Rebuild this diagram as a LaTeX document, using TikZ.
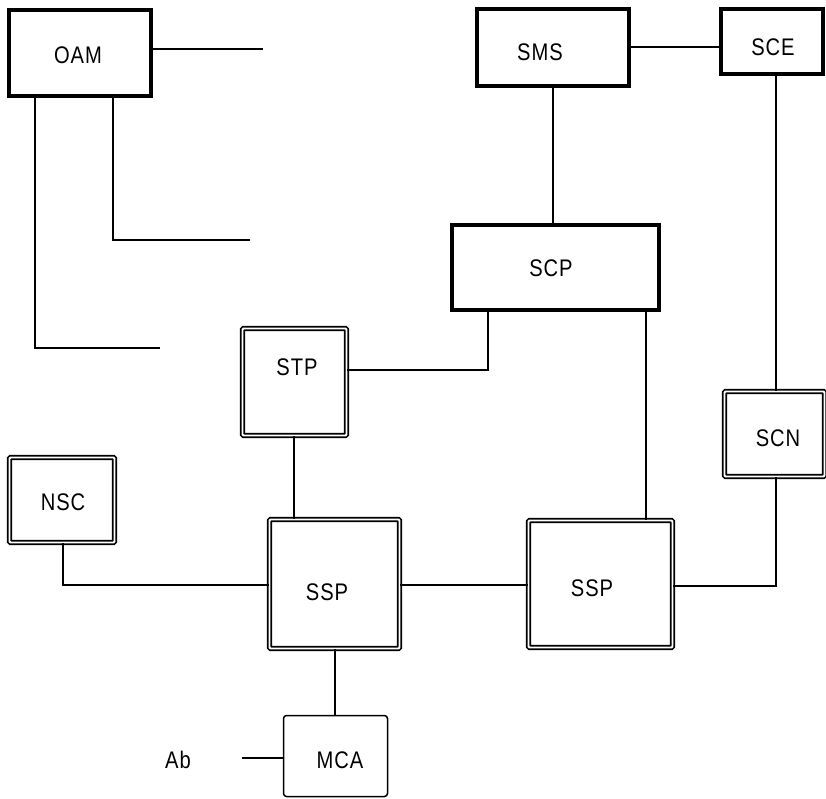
\documentclass[tikz,border=0pt]{standalone}
\usepackage{fontspec}
\setmainfont{Liberation Sans}[FakeStretch=0.84, LetterSpace=4]
\begin{document}
\begin{tikzpicture}[x=1pt,y=-1pt,
  dblbox/.style={draw, line width=1.7pt, double=white, double distance=1.8pt, inner sep=0pt, rounded corners=1pt},
  thinbox/.style={draw, line width=1.5pt, inner sep=0pt, rounded corners=3pt},
  lbl/.style={font=\fontsize{24}{26}\selectfont, inner sep=0pt},
  conn/.style={line width=1.5pt}]
\useasboundingbox (0,0) rectangle (826,799);
% thick boxes (outer extent minus line width)
\node[draw, line width=4.5pt, inner sep=0pt, minimum width=142pt, minimum height=86pt] (oam) at (80,53) {};
\node[draw, line width=4.5pt, inner sep=0pt, minimum width=152pt, minimum height=77pt] (sms) at (553,47.5) {};
\node[draw, line width=4.5pt, inner sep=0pt, minimum width=102pt, minimum height=65pt] (sce) at (772,41.5) {};
\node[draw, line width=4.5pt, inner sep=0pt, minimum width=207pt, minimum height=85pt] (scp) at (555.5,267.5) {};
% double boxes
\node[dblbox, minimum width=104pt, minimum height=107pt] (stp) at (294.5,382) {};
\node[dblbox, minimum width=105pt, minimum height=85pt] (nsc) at (62,500) {};
\node[dblbox, minimum width=130pt, minimum height=129pt] (ssp1) at (334.5,584) {};
\node[dblbox, minimum width=144pt, minimum height=127pt] (ssp2) at (600.5,584) {};
\node[dblbox, minimum width=100pt, minimum height=85pt] (scn) at (774.5,434) {};
% thin box
\node[thinbox, minimum width=104pt, minimum height=81pt] (mca) at (335.5,756) {};
% labels
\node[lbl] (oamt) at (78,55) {OAM};
\node[lbl] (smst) at (540,52) {SMS};
\node[lbl] (scet) at (773,47) {SCE};
\node[lbl] (scpt) at (551,268) {SCP};
\node[lbl] (stpt) at (297,367) {STP};
\node[lbl] (nsct) at (63,502) {NSC};
\node[lbl] (ssp1t) at (327,592) {SSP};
\node[lbl] (ssp2t) at (592,588) {SSP};
\node[lbl] (scnt) at (778,438) {SCN};
\node[lbl] (mcat) at (340,760) {MCA};
\node[lbl] (ab) at (178,760) {Ab};
% free ends
\coordinate (e1) at (263,49);
\coordinate (e2) at (250,240);
\coordinate (e3) at (160,348);
\coordinate (abl) at (242,758);
% connectors
\draw[conn] (oam.east |- e1) -- (e1);
\draw[conn] (oam.south -| 113,0) |- (e2);
\draw[conn] (oam.south -| 35,0) |- (e3);
\draw[conn] (sms.east |- 0,47) -- (sce.west |- 0,47);
\draw[conn] (sms.south) -- (scp.north -| sms.south);
\draw[conn] (scp.south -| 488,0) |- (stp.east |- 0,370);
\draw[conn] (scp.south -| 646,0) -- (ssp2.north -| 646,0);
\draw[conn] (sce.south -| 776,0) -- (scn.north -| 776,0);
\draw[conn] (stp.south -| 294,0) -- (ssp1.north -| 294,0);
\draw[conn] (nsc.south -| 63,0) |- (ssp1.west |- 0,585);
\draw[conn] (ssp1.east |- 0,585) -- (ssp2.west |- 0,585);
\draw[conn] (ssp2.east |- 0,586) -| (scn.south -| 776,0);
\draw[conn] (ssp1.south -| 335,0) -- (mca.north -| 335,0);
\draw[conn] (abl) -- (mca.west |- abl);
\end{tikzpicture}
\end{document}
